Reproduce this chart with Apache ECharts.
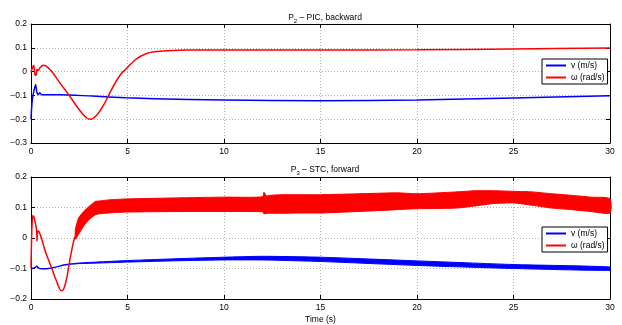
<!DOCTYPE html>
<html>
<head>
<meta charset="utf-8">
<script src="https://cdn.jsdelivr.net/npm/echarts@6/dist/echarts.min.js"></script>
<style>html,body{margin:0;padding:0;background:#fff;}#c{width:622px;height:325px;}</style>
</head>
<body>
<div id="c"></div>
<script>
// ---- Data ----
var xTicks = [0, 5, 10, 15, 20, 25, 30];
var topYTicks = [-0.3, -0.2, -0.1, 0, 0.1, 0.2];
var botYTicks = [-0.2, -0.1, 0, 0.1, 0.2];

// Top panel: P2 - PIC, backward
var topVT = [0, 0.07, 0.17, 0.24, 0.31, 0.38, 0.45, 0.56, 1.43, 3.17, 4.9, 6.39, 10, 15, 20, 25, 30];
var topV  = [-0.2, -0.117, -0.075, -0.055, -0.089, -0.097, -0.089, -0.097, -0.097, -0.103, -0.11, -0.114, -0.119, -0.123, -0.119, -0.111, -0.101];
var topWT = [0, 0.07, 0.14, 0.2, 0.26, 0.31, 0.38, 0.47, 0.64, 0.77, 1.08, 1.43, 1.95, 2.47, 2.9, 3.08, 3.43, 3.78, 4.22, 4.65, 4.91, 5.44, 5.96, 6.39, 7.07, 8.1, 10, 15, 20, 25, 30];
var topW  = [-0.004, 0.015, 0.027, -0.011, -0.016, 0.01, 0.005, 0.017, 0.027, 0.024, 0, -0.04, -0.097, -0.157, -0.196, -0.2, -0.181, -0.138, -0.068, -0.011, 0.01, 0.052, 0.075, 0.083, 0.088, 0.091, 0.091, 0.091, 0.092, 0.095, 0.099];

// Bottom panel: P3 - STC, forward
var botVT = [0, 0.1, 0.2, 0.3, 0.4, 0.56, 1.08, 1.78, 2.5];
var botV  = [-0.1, -0.099, -0.097, -0.093, -0.099, -0.101, -0.098, -0.088, -0.083];
var botVBandT  = [2.5, 5, 8, 10, 12, 15, 20, 25, 30];
var botVLower  = [-0.084, -0.079, -0.074, -0.072, -0.072, -0.077, -0.09, -0.1, -0.106];
var botVUpper  = [-0.082, -0.074, -0.067, -0.063, -0.06, -0.063, -0.075, -0.087, -0.095];

var botWT = [0, 0.05, 0.1, 0.21, 0.3, 0.31, 0.35, 0.42, 0.56, 0.73, 1.08, 1.34, 1.57, 1.69, 1.86, 2.04, 2.21, 2.3];
var botW  = [-0.1, 0.04, 0.074, 0.055, 0.017, -0.01, 0.023, 0.02, -0.004, -0.042, -0.1, -0.144, -0.173, -0.168, -0.128, -0.063, -0.01, 0.006];
var botWBandT  = [2.3, 2.47, 2.73, 3.0, 3.34, 3.5, 4.04, 4.9, 8, 10, 12, 12.07, 12.2, 12.4, 13, 14, 15, 17, 19, 20, 22, 23, 24, 25, 26, 27, 28, 29, 30];
var botWUpper  = [0.028, 0.066, 0.087, 0.103, 0.12, 0.121, 0.125, 0.128, 0.132, 0.134, 0.135, 0.15, 0.138, 0.14, 0.142, 0.142, 0.142, 0.145, 0.148, 0.145, 0.151, 0.155, 0.155, 0.153, 0.151, 0.145, 0.14, 0.134, 0.129];
var botWLower  = [-0.004, 0.012, 0.039, 0.06, 0.076, 0.079, 0.082, 0.085, 0.087, 0.087, 0.086, 0.079, 0.08, 0.081, 0.081, 0.082, 0.082, 0.087, 0.093, 0.096, 0.098, 0.105, 0.113, 0.115, 0.107, 0.098, 0.093, 0.087, 0.082];

var nameV = 'v (m/s)', nameW = '\u03c9 (rad/s)';
var BLUE = '#0000ff', RED = '#ff0000';
var FONT = 'Liberation Sans, Arial, sans-serif';

function pairs(t, v) { return t.map(function (x, i) { return [x, v[i]]; }); }
function fmt(v) { var s = (Math.round(v * 10) / 10).toString(); return s.replace('-', '\u2212'); }

function xAx(grid, pos, labels) {
  return {
    type: 'value', gridIndex: grid, position: pos, min: xTicks[0], max: xTicks[xTicks.length - 1], interval: 5,
    axisLine: { show: true, onZero: false, lineStyle: { color: '#000', width: 1 } },
    axisTick: { show: true, inside: true, length: 4, lineStyle: { color: '#000' } },
    axisLabel: { show: labels, color: '#000', fontSize: 8.5, fontFamily: FONT, margin: 4 },
    splitLine: { show: labels, lineStyle: { color: '#b0b0b0', type: [1, 2], width: 1 } }
  };
}
function yAx(grid, pos, ticks, labels) {
  return {
    type: 'value', gridIndex: grid, position: pos, min: ticks[0], max: ticks[ticks.length - 1], interval: 0.1,
    axisLine: { show: true, onZero: false, lineStyle: { color: '#000', width: 1 } },
    axisTick: { show: true, inside: true, length: 4, lineStyle: { color: '#000' } },
    axisLabel: { show: labels, color: '#000', fontSize: 8.5, fontFamily: FONT, margin: 4, formatter: fmt },
    splitLine: { show: labels, lineStyle: { color: '#b0b0b0', type: [1, 2], width: 1 } }
  };
}
function line(name, xi, data, color, w) {
  return { name: name, type: 'line', xAxisIndex: xi, yAxisIndex: xi, data: data, color: color,
    showSymbol: false, symbol: 'none', smooth: 0.3, lineStyle: { color: color, width: w }, z: 3 };
}
// filled band between a lower and an upper envelope, positioned via the axes' scales
function band(xi, t, up, lo, color) {
  return {
    type: 'custom', xAxisIndex: xi, yAxisIndex: xi, data: [[t[0], lo[0]]], silent: true, z: 3,
    renderItem: function (params, api) {
      var pts = [], i;
      for (i = 0; i < t.length; i++) pts.push(api.coord([t[i], up[i]]));
      for (i = t.length - 1; i >= 0; i--) pts.push(api.coord([t[i], lo[i]]));
      return { type: 'polygon', shape: { points: pts, smooth: 0.2 },
        style: { fill: color, stroke: color, lineWidth: 1 } };
    }
  };
}
function legend(top) {
  return {
    data: [nameV, nameW], left: 542, top: top, orient: 'vertical', icon: 'rect',
    itemWidth: 20, itemHeight: 2, itemGap: 3, padding: [2, 3, 2, 4],
    backgroundColor: '#fff', borderColor: '#000', borderWidth: 1, borderRadius: 0,
    textStyle: { fontSize: 8.5, fontFamily: FONT, color: '#000' }, selectedMode: false
  };
}
function title(main, sub, rest, top) {
  return {
    text: '{n|' + main + '}{s|' + sub + '}{n|' + rest + '}', left: 320, top: top, textAlign: 'center',
    textStyle: { fontWeight: 'normal', rich: {
      n: { fontSize: 8.5, fontFamily: FONT, color: '#000', fontWeight: 'normal' },
      s: { fontSize: 6, fontFamily: FONT, color: '#000', fontWeight: 'normal', padding: [6, 0, 0, 0] }
    } }
  };
}

var chart = echarts.init(document.getElementById('c'), null, { renderer: 'canvas' });
var series = [
  line(nameV, 0, pairs(topVT, topV), BLUE, 1.5),
  line(nameW, 0, pairs(topWT, topW), RED, 1.5),
  line(nameV, 2, pairs(botVT, botV), BLUE, 1.5),
  line(nameW, 2, pairs(botWT, botW), RED, 1.5),
  band(2, botVBandT, botVUpper, botVLower, BLUE),
  band(2, botWBandT, botWUpper, botWLower, RED)
];

chart.setOption({
  animation: false,
  backgroundColor: '#fff',
  title: [title('P', '2', ' \u2013 PIC, backward', 7), title('P', '3', ' \u2013 STC, forward', 159)],
  legend: [legend(59), legend(227)],
  grid: [
    { left: 31, top: 24, width: 579, height: 119, containLabel: false },
    { left: 31, top: 177, width: 579, height: 123, containLabel: false }
  ],
  xAxis: [
    xAx(0, 'bottom', true), xAx(0, 'top', false),
    Object.assign(xAx(1, 'bottom', true), { name: 'Time (s)', nameLocation: 'middle', nameGap: 16,
      nameTextStyle: { fontSize: 8.5, fontFamily: FONT, color: '#000' } }),
    xAx(1, 'top', false)
  ],
  yAxis: [
    yAx(0, 'left', topYTicks, true), yAx(0, 'right', topYTicks, false),
    yAx(1, 'left', botYTicks, true), yAx(1, 'right', botYTicks, false)
  ],
  series: series
});
</script>
</body>
</html>
